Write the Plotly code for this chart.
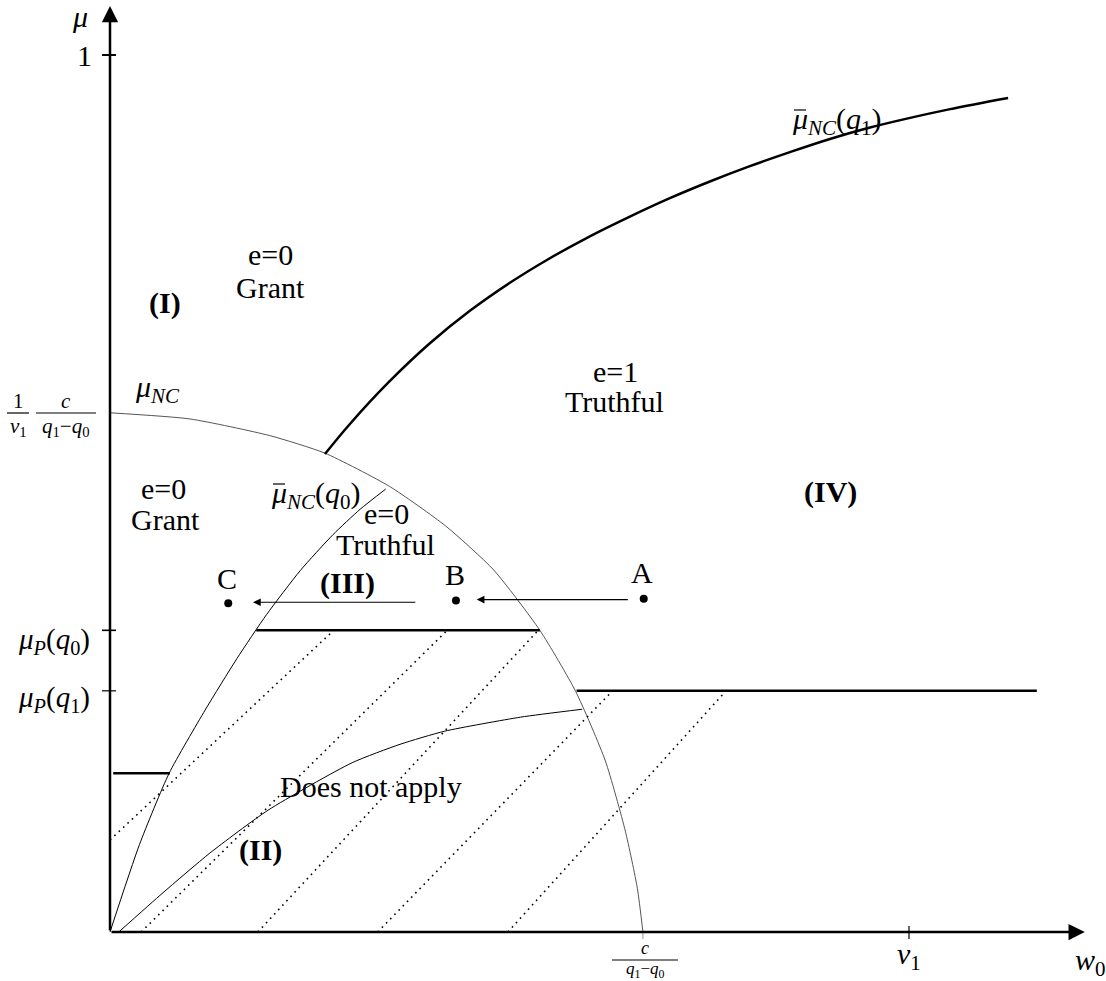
import plotly.graph_objects as go

# ---------------- data (w0 on the horizontal axis, mu on the vertical axis) ----------------
V1 = 1.0                 # v1 on the w0 axis
C_OVER_DQ = 0.667        # c/(q1-q0) on the w0 axis
MU_NC0 = 0.592           # (1/v1) c/(q1-q0) on the mu axis
MU_ONE = 1.0
MU_P_Q0 = 0.344          # mu_P(q0)
MU_P_Q1 = 0.275          # mu_P(q1)
MU_LOW = 0.181           # short segment near the mu axis

# mu_NC boundary (thin curve)
mu_nc_w = [0.0, 0.100, 0.200, 0.269, 0.350, 0.420, 0.480, 0.538, 0.583, 0.620, 0.645, 0.660, 0.667]
mu_nc_mu = [0.592, 0.585, 0.566, 0.546, 0.508, 0.463, 0.413, 0.344, 0.274, 0.195, 0.115, 0.050, 0.0]

# mu_bar_NC(q0) (thin curve from origin)
mubar_q0_w = [0.0, 0.037, 0.074, 0.119, 0.159, 0.196, 0.238, 0.279, 0.313, 0.345]
mubar_q0_mu = [0.0, 0.100, 0.181, 0.253, 0.312, 0.362, 0.412, 0.453, 0.482, 0.505]

# lower thin curve from origin
lower_w = [0.011, 0.066, 0.125, 0.198, 0.303, 0.363, 0.419, 0.514, 0.591]
lower_mu = [0.0, 0.0445, 0.090, 0.139, 0.193, 0.214, 0.229, 0.245, 0.254]

# mu_bar_NC(q1) (thick curve)
mubar_q1_w = [0.269, 0.300, 0.350, 0.400, 0.450, 0.500, 0.550, 0.600, 0.650,
              0.700, 0.750, 0.800, 0.850, 0.900, 0.950, 1.000, 1.050, 1.124]
mubar_q1_mu = [0.545, 0.579, 0.628, 0.671, 0.708, 0.740, 0.768, 0.793, 0.8155,
               0.8365, 0.8555, 0.873, 0.889, 0.904, 0.917, 0.928, 0.938, 0.951]

# thick horizontal segments: [w start, w end] at a given mu
seg_w_start = [0.183, 0.584, 0.004]
seg_w_end = [0.538, 1.160, 0.075]
seg_mu = [MU_P_Q0, MU_P_Q1, MU_LOW]

# dotted hatching segments
hatch_w_a = [0.000, 0.039, 0.185, 0.335, 0.498]
hatch_mu_a = [0.105, 0.0, 0.0, 0.0, 0.0]
hatch_w_b = [0.280, 0.422, 0.536, 0.628, 0.770]
hatch_mu_b = [0.344, 0.344, 0.344, 0.274, 0.274]

# points A, B, C
pt_names = ["A", "B", "C"]
pt_w = [0.668, 0.433, 0.148]
pt_mu = [0.380, 0.378, 0.375]

# moves A -> B and (III) -> C
move_w_from = [0.650, 0.384]
move_w_to = [0.459, 0.179]
move_mu = [0.379, 0.376]

# ---------------- figure geometry ----------------
W, H = 1106, 981
X0_PX, Y0_PX = 110, 932      # pixel position of the origin
SX, SY = 799, 877            # pixels per unit of w0 and of mu
W_AXIS_END = 1.220
MU_AXIS_END = 1.056
FONT = "Liberation Serif"

fig = go.Figure()


def curve(w, mu, width, color="black", dash=None, shape="spline", smoothing=0.6):
    fig.add_trace(go.Scatter(
        x=w, y=mu, mode="lines",
        line=dict(color=color, width=width, dash=dash, shape=shape, smoothing=smoothing),
        hoverinfo="skip", showlegend=False))


curve(mu_nc_w, mu_nc_mu, 1.0, color="#555555")
curve(mubar_q0_w, mubar_q0_mu, 1.0)
curve(lower_w, lower_mu, 1.0)
curve(mubar_q1_w, mubar_q1_mu, 2.5, smoothing=1.0)

# thick horizontal segments
for a, b, m in zip(seg_w_start, seg_w_end, seg_mu):
    curve([a, b], [m, m], 2.5, shape="linear")

# hatching
hx, hy = [], []
for wa, ma, wb, mb in zip(hatch_w_a, hatch_mu_a, hatch_w_b, hatch_mu_b):
    hx += [wa, wb, None]
    hy += [ma, mb, None]
curve(hx, hy, 1.6, dash="1.6px,4.4px", shape="linear")

# points
fig.add_trace(go.Scatter(x=pt_w, y=pt_mu, mode="markers",
                         marker=dict(color="black", size=8),
                         hoverinfo="skip", showlegend=False))


def arrow(x_tail, y_tail, x_head, y_head, width, size):
    fig.add_annotation(x=x_head, y=y_head, ax=x_tail, ay=y_tail,
                       xref="x", yref="y", axref="x", ayref="y",
                       showarrow=True, arrowhead=2, arrowsize=size,
                       arrowwidth=width, arrowcolor="black", text="",
                       standoff=0, startstandoff=0)


# axes with arrow heads
arrow(0, 0, W_AXIS_END, 0, 2.5, 1.3)
arrow(0, 0, 0, MU_AXIS_END, 2.5, 1.3)

# moves
for wf, wt, m in zip(move_w_from, move_w_to, move_mu):
    arrow(wf, m, wt, m, 1.1, 1.4)

# tick marks
for m, wdt in [(MU_ONE, 2.0), (MU_P_Q0, 1.6), (MU_P_Q1, 1.2)]:
    fig.add_shape(type="line", xref="x", yref="y", xsizemode="pixel", xanchor=0,
                  x0=-8, x1=6, y0=m, y1=m, line=dict(color="black", width=wdt))
fig.add_shape(type="line", xref="x", yref="y", ysizemode="pixel", yanchor=0,
              y0=-7, y1=6, x0=V1, x1=V1, line=dict(color="black", width=1.2))
fig.add_shape(type="line", xref="x", yref="y", ysizemode="pixel", yanchor=0,
              y0=-7, y1=0, x0=C_OVER_DQ, x1=C_OVER_DQ, line=dict(color="#999999", width=1))


def label(text, px, py, size=30):
    fig.add_annotation(text=text, x=px / W, y=1 - py / H, xref="paper", yref="paper",
                       showarrow=False, xanchor="center", yanchor="middle",
                       font=dict(family=FONT, size=size, color="black"))


def bar(px0, px1, py, width=1.2):
    fig.add_shape(type="line", xref="paper", yref="paper",
                  x0=px0 / W, x1=px1 / W, y0=1 - py / H, y1=1 - py / H,
                  line=dict(color="black", width=width))


MU = "<i>μ</i>"

label(MU, 80, 16, 30)
label("1", 84, 56, 30)
label(MU + "<sub><i>P</i></sub>(<i>q</i><sub>0</sub>)", 54, 641, 29)
label(MU + "<sub><i>P</i></sub>(<i>q</i><sub>1</sub>)", 54, 699, 29)

# (1/v1) (c/(q1-q0)) on the mu axis
label("1", 18, 401, 21)
bar(7, 29, 413)
label("<i>v</i><sub>1</sub>", 18, 427, 21)
label("<i>c</i>", 66, 401, 21)
bar(36, 96, 413)
label("<i>q</i><sub>1</sub>−<i>q</i><sub>0</sub>", 66, 427, 21)

# c/(q1-q0) on the w0 axis
label("<i>c</i>", 645, 948, 18)
bar(612, 678, 960)
label("<i>q</i><sub>1</sub>−<i>q</i><sub>0</sub>", 645, 970, 17)

label("<i>v</i><sub>1</sub>", 909, 956, 30)
label("<i>w</i><sub>0</sub>", 1090, 962, 30)

label(MU + "<sub><i>NC</i></sub>", 157, 389, 30)
label("e=0", 270, 254, 30)
label("Grant", 270, 287, 30)
label("<b>(I)</b>", 165, 303, 30)
label("e=0", 163, 488, 30)
label("Grant", 165, 519, 30)
label(MU + "<sub><i>NC</i></sub>(<i>q</i><sub>0</sub>)", 316, 495, 30)
bar(273, 285, 484)          # overline of mu-bar
label("e=0", 386, 513, 30)
label("Truthful", 385, 544, 30)
label("<b>(III)</b>", 347, 583, 30)
label("C", 227, 578, 30)
label("B", 455, 574, 30)
label("A", 642, 572, 30)
label("e=1", 615, 371, 30)
label("Truthful", 614, 401, 30)
label("<b>(IV)</b>", 830, 492, 30)
label(MU + "<sub><i>NC</i></sub>(<i>q</i><sub>1</sub>)", 837, 121, 30)
bar(794, 806, 110)          # overline of mu-bar
label("Does not apply", 371, 786, 30)
label("<b>(II)</b>", 260, 850, 30)

fig.update_layout(
    width=W, height=H,
    margin=dict(l=0, r=0, t=0, b=0, pad=0),
    paper_bgcolor="white", plot_bgcolor="white",
    xaxis=dict(range=[-X0_PX / SX, (W - X0_PX) / SX], visible=False, fixedrange=True),
    yaxis=dict(range=[-(H - Y0_PX) / SY, Y0_PX / SY], visible=False, fixedrange=True),
    showlegend=False,
)

fig.write_html("out.html", config={"displayModeBar": False},
               post_script="document.body.style.margin='0px';document.body.style.overflow='hidden';")
